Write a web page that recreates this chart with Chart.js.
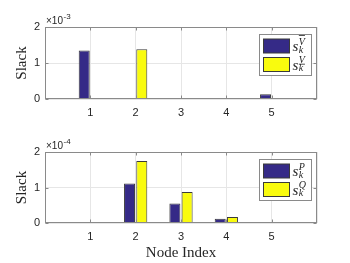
<!DOCTYPE html>
<html><head><meta charset="utf-8">
<script src="https://cdn.jsdelivr.net/npm/chart.js@4.4.0/dist/chart.umd.min.js"></script>
<style>
html,body{margin:0;padding:0;background:#fff;width:350px;height:263px;overflow:hidden}
.c{position:absolute;left:0;width:350px}
#w1{top:0;height:130px}
#w2{top:130px;height:133px}
</style></head><body>
<div id="w1" class="c"><canvas id="c1"></canvas></div>
<div id="w2" class="c"><canvas id="c2"></canvas></div>
<script>
// ---- data ----
const nodes = ['1', '2', '3', '4', '5'];
const sVupper = [1.35e-3, 0, 0, 0, 0.13e-3];
const sVlower = [0, 1.38e-3, 0, 0, 0];
const sP = [0.02e-4, 1.11e-4, 0.55e-4, 0.12e-4, 0.02e-4];
const sQ = [0.02e-4, 1.75e-4, 0.87e-4, 0.17e-4, 0.02e-4];
const yTicksTop = [0, 1, 2];
const yTicksBottom = [0, 1, 2];
const expTop = -3;
const expBottom = -4;

// ---- style ----
const BLUE = '#352A87', YELLOW = '#F9FB0E', EDGE = '#3a3a3a';
const AXIS = '#8a8a8a', GRID = '#e6e6e6', TEXT = '#262626';
const SANS = '"Liberation Sans", Arial, sans-serif';
const SERIF = '"Liberation Serif", "Times New Roman", serif';

const deco = {
  id: 'deco',
  afterDraw(chart, args, o) {
    const {ctx, chartArea: a} = chart;
    const xs = chart.scales.x, ys = chart.scales.y;
    ctx.save();
    // box
    const L = Math.round(a.left) + 0.5, R = Math.round(a.right) - 0.5;
    const T = Math.round(a.top) + 0.5, B = Math.round(a.bottom) - 0.5;
    ctx.strokeStyle = AXIS; ctx.lineWidth = 1;
    ctx.strokeRect(L, T, R - L, B - T);
    // inward ticks
    ctx.beginPath();
    nodes.forEach((n, i) => {
      const x = Math.round(xs.getPixelForValue(i + 1)) + 0.5;
      ctx.moveTo(x, B); ctx.lineTo(x, B - 3);
      ctx.moveTo(x, T); ctx.lineTo(x, T + 3);
    });
    o.yTicks.forEach(t => {
      const y = Math.round(ys.getPixelForValue(t * Math.pow(10, o.exp))) + 0.5;
      ctx.moveTo(L, y); ctx.lineTo(L + 3, y);
      ctx.moveTo(R, y); ctx.lineTo(R - 3, y);
    });
    ctx.stroke();
    // exponent label
    ctx.fillStyle = TEXT;
    ctx.textAlign = 'left'; ctx.textBaseline = 'alphabetic';
    ctx.font = '10px ' + SANS;
    ctx.fillText('\u00d710', a.left + 1, a.top - 3);
    const w = ctx.measureText('\u00d710').width;
    ctx.font = '8px ' + SANS;
    ctx.fillText(String(o.exp), a.left + 1 + w + 0.5, a.top - 8);
    // legend
    const bx = Math.round(a.right) - 58 + 0.5, by = Math.round(a.top) + 7 + 0.5;
    const bw = 52, bh = 41;
    ctx.fillStyle = '#fff'; ctx.fillRect(bx, by, bw, bh);
    ctx.strokeStyle = '#8a8a8a'; ctx.strokeRect(bx, by, bw, bh);
    o.items.forEach((it, i) => {
      const py = by + 4.5 + i * 18.5;
      ctx.fillStyle = it.color; ctx.fillRect(bx + 4, py, 26, 14);
      ctx.strokeStyle = EDGE; ctx.strokeRect(bx + 4, py, 26, 14);
      const cy = py + 7;
      const tx = bx + 33;
      ctx.fillStyle = TEXT;
      ctx.font = 'italic 15px ' + SERIF;
      ctx.fillText('s', tx, cy + 5);
      const sw = ctx.measureText('s').width;
      ctx.font = 'italic 10px ' + SERIF;
      ctx.fillText(it.sup, tx + sw + 0.5, cy - 1.5);
      const vw = ctx.measureText(it.sup).width;
      ctx.fillText('k', tx + sw + 0.5, cy + 6.5);
      if (it.over || it.under) {
        ctx.strokeStyle = TEXT; ctx.lineWidth = 0.8;
        ctx.beginPath();
        const ly = it.over ? cy - 10.5 : cy - 0.3;
        ctx.moveTo(tx + sw + 0.5, ly); ctx.lineTo(tx + sw + 0.5 + vw, ly);
        ctx.stroke();
        ctx.lineWidth = 1;
      }
    });
    ctx.restore();
  }
};

function makeChart(id, s1, s2, c) {
  const f = Math.pow(10, c.exp);
  return new Chart(document.getElementById(id), {
    type: 'bar',
    data: {
      labels: ['', ...nodes, ''],
      datasets: [
        {data: [null, ...s1, null], backgroundColor: BLUE, borderColor: EDGE, borderWidth: 1,
         categoryPercentage: 0.54, barPercentage: 0.9},
        {data: [null, ...s2, null], backgroundColor: YELLOW, borderColor: EDGE, borderWidth: 1,
         categoryPercentage: 0.54, barPercentage: 0.9}
      ]
    },
    options: {
      responsive: true, maintainAspectRatio: false, animation: false,
      layout: {padding: {top: c.padTop, right: 33, left: 0, bottom: 0}},
      plugins: {
        legend: {display: false}, tooltip: {enabled: false},
        deco: {exp: c.exp, yTicks: c.yTicks, items: c.items}
      },
      scales: {
        x: {
          offset: false,
          grid: {offset: false, color: GRID, drawTicks: false},
          border: {display: false},
          ticks: {padding: 7, color: TEXT, font: {family: SANS, size: 11}, maxRotation: 0, autoSkip: false},
          title: c.xTitle ? {display: true, text: c.xTitle, color: TEXT,
                  font: {family: SERIF, size: 15}, padding: {top: 0, bottom: 1}} : {display: false},
          afterFit(s) { s.height = c.xHeight; }
        },
        y: {
          min: 0, max: 2 * f,
          afterBuildTicks(s) { s.ticks = c.yTicks.map(t => ({value: t * f})); },
          grid: {color: GRID, drawTicks: false},
          border: {display: false},
          ticks: {padding: 5, color: TEXT, font: {family: SANS, size: 11},
                  callback: v => String(Math.round(v / f))},
          title: {display: true, text: 'Slack', color: TEXT,
                  font: {family: SERIF, size: 15}, padding: {top: 13, bottom: 0}},
          afterFit(s) { s.width = 45; }
        }
      }
    },
    plugins: [deco]
  });
}

makeChart('c1', sVupper, sVlower, {
  exp: expTop, yTicks: yTicksTop, padTop: 27, xHeight: 31, xTitle: null,
  items: [{color: BLUE, sup: 'V', over: true}, {color: YELLOW, sup: 'V', under: true}]
});
makeChart('c2', sP, sQ, {
  exp: expBottom, yTicks: yTicksBottom, padTop: 22, xHeight: 40, xTitle: 'Node Index',
  items: [{color: BLUE, sup: 'P'}, {color: YELLOW, sup: 'Q'}]
});
</script>
</body></html>
